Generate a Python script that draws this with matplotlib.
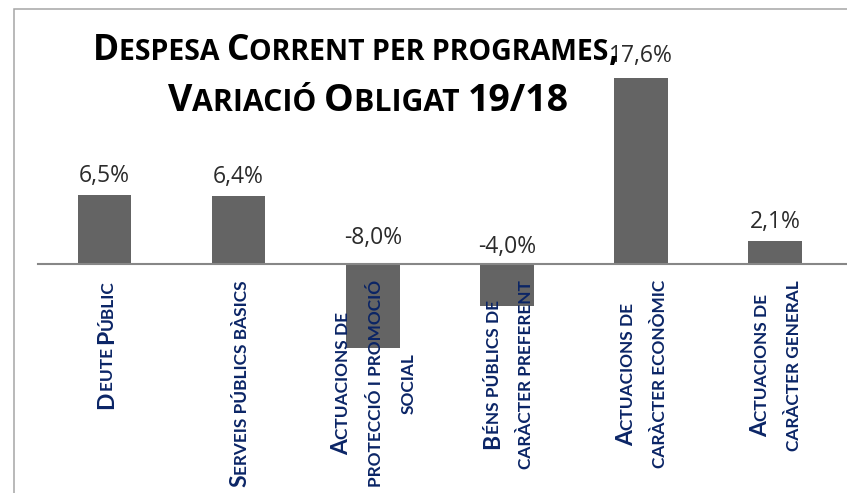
import matplotlib
matplotlib.use("Agg")
import matplotlib.pyplot as plt
from matplotlib.font_manager import FontProperties
from matplotlib.transforms import IdentityTransform
from matplotlib.patches import Rectangle

# ---------------- data ----------------
categories = [
    ["Deute Públic"],
    ["Serveis públics bàsics"],
    ["Actuacions de", "protecció i promoció", "social"],
    ["Béns públics de", "caràcter preferent"],
    ["Actuacions de", "caràcter econòmic"],
    ["Actuacions de", "caràcter general"],
]
values = [6.5, 6.4, -8.0, -4.0, 17.6, 2.1]
value_labels = ["6,5%", "6,4%", "-8,0%", "-4,0%", "17,6%", "2,1%"]
title_lines = ["Despesa Corrent per programes,", "Variació Obligat 19/18"]

# ---------------- figure ----------------
W, H = 847, 493
DPI = 100
fig = plt.figure(figsize=(W / DPI, H / DPI), dpi=DPI)
fig.patch.set_facecolor("white")

px_per_unit = 10.54
zero_y = 263.5  # from top
ylo, yhi = -20, 20
ax_h = (yhi - ylo) * px_per_unit
ax_top = zero_y - yhi * px_per_unit
left_px, right_px = 37.5, 842
ax = fig.add_axes([left_px / W, (H - ax_top - ax_h) / H, (right_px - left_px) / W, ax_h / H])
ax.set_xlim(-0.5, len(values) - 0.5)
ax.set_ylim(ylo, yhi)
ax.axis("off")

xs = list(range(len(values)))
ax.bar(xs, values, width=0.4, color="#646464", zorder=2)
ax.axhline(0, color="#878787", lw=1.5, xmin=0, xmax=1.01, clip_on=False, zorder=3)

# chart border
fig.add_artist(Rectangle((14, -10), 900, H - 9 + 10, transform=IdentityTransform(),
                         fill=False, edgecolor="#A6A6A6", lw=1.1))

# data labels
label_offsets = [13, 13, 20, 10, 16, 13]
for i, (v, t) in enumerate(zip(values, value_labels)):
    base = v if v > 0 else 0
    ax.annotate(t, xy=(i, base), xytext=(0, label_offsets[i]), textcoords="offset pixels",
                ha="center", va="baseline", fontsize=16.5, family="Open Sans", color="#2b2b2b",
                zorder=4)

renderer = fig.canvas.get_renderer()


def seg_width(s, fp):
    w1, _, _ = renderer.get_text_width_height_descent("|" + s + "|", fp, ismath=False)
    w0, _, _ = renderer.get_text_width_height_descent("||", fp, ismath=False)
    return w1 - w0


def small_caps(s):
    segs = []
    for ch in s:
        big = ch.isupper() or (not ch.isalpha() and ch != " ")
        txt = ch.upper()
        if segs and segs[-1][1] == big:
            segs[-1][0] += txt
        else:
            segs.append([txt, big])
    return segs


def line_length(s, big_fp, small_fp):
    return sum(seg_width(t, big_fp if b else small_fp) for t, b in small_caps(s))


def draw_line(s, x0, y0, big_fp, small_fp, color, rotation):
    pos = 0.0
    for t, b in small_caps(s):
        fp = big_fp if b else small_fp
        if rotation == 0:
            xy = (x0 + pos, y0)
        else:
            xy = (x0, y0 + pos)
        fig.text(xy[0], xy[1], t, fontproperties=fp, color=color, rotation=rotation,
                 rotation_mode="anchor", ha="left", va="baseline", transform=IdentityTransform(),
                 zorder=5)
        pos += seg_width(t, fp)


# title
title_sizes = [(25.5, 20.5), (27.0, 21.8)]
title_centers = [356, 368]
title_baselines = [60, 111]
for line, (bs, ss), cx, by in zip(title_lines, title_sizes, title_centers, title_baselines):
    tb = FontProperties(family="Open Sans", weight="bold", size=bs)
    ts = FontProperties(family="Open Sans", weight="bold", size=ss)
    L = line_length(line, tb, ts)
    draw_line(line, cx - L / 2, H - by, tb, ts, "black", 0)

# category labels (rotated, small caps)
cb = FontProperties(family="Lato", weight="bold", size=16.5)
cs = FontProperties(family="Lato", weight="bold", size=12.4)
cap_big = 0.7165 * 16.5 * DPI / 72
line_gap = 32.5
label_top = H - 280
for i, lines in enumerate(categories):
    xc = ax.transData.transform((i, 0))[0]
    lens = [line_length(l, cb, cs) for l in lines]
    c = label_top - max(lens) / 2
    n = len(lines)
    for j, (l, L) in enumerate(zip(lines, lens)):
        xline = xc + (j - (n - 1) / 2) * line_gap
        draw_line(l, xline + cap_big / 2, c - L / 2, cb, cs, "#0B2566", 90)

fig.savefig("out.png", dpi=DPI)
